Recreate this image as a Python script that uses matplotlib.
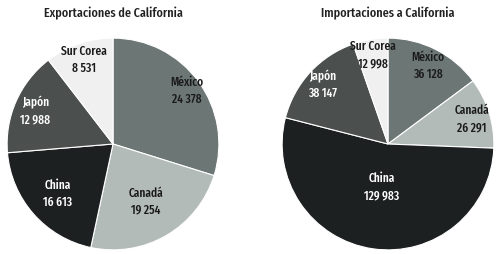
import matplotlib.pyplot as plt
import numpy as np

paises = ['México', 'Canadá', 'China', 'Japón', 'Sur Corea']

exportaciones = [24378, 19254, 16613, 12988, 8531]
importaciones = [36128, 26291, 129983, 38147, 12998]

titulo_exp = 'Exportaciones de California'
titulo_imp = 'Importaciones a California'

colores = ['#6c7674', '#b3bbb9', '#1d2021', '#4b504f', '#f0f0f0']
colores_texto = ['#1a1a1a', '#1a1a1a', 'white', 'white', '#1a1a1a']

plt.rcParams['font.family'] = ['Fira Sans Extra Condensed', 'DejaVu Sans']


def formato(v):
    return f'{v:,}'.replace(',', ' ')


def dibujar_pastel(ax, valores, titulo, distancias):
    cunas, _ = ax.pie(
        valores,
        colors=colores,
        startangle=90,
        counterclock=False,
        wedgeprops=dict(edgecolor='white', linewidth=0.8),
    )
    for i, cuna in enumerate(cunas):
        ang = np.deg2rad((cuna.theta1 + cuna.theta2) / 2)
        r = distancias[i]
        ax.text(
            r * np.cos(ang), r * np.sin(ang),
            f'{paises[i]}\n{formato(valores[i])}',
            ha='center', va='center',
            fontsize=9, fontweight='medium',
            color=colores_texto[i],
            linespacing=1.45,
        )
    ax.set_xlim(-1.02, 1.02)
    ax.set_ylim(-1.02, 1.02)
    ax.set_aspect('equal')
    ax.set_title(titulo, fontsize=9.5, fontweight='medium', color='#222222', pad=14)


fig = plt.figure(figsize=(5.02, 2.55), dpi=100)

ax1 = fig.add_axes([5 / 502, 2 / 255, 216 / 502, 216 / 255])
ax2 = fig.add_axes([280 / 502, 2 / 255, 216 / 502, 216 / 255])

dibujar_pastel(ax1, exportaciones, titulo_exp, [0.86, 0.62, 0.70, 0.80, 0.85])
dibujar_pastel(ax2, importaciones, titulo_imp, [0.84, 0.83, 0.40, 0.84, 0.86])

fig.savefig('out.png', dpi=100)
